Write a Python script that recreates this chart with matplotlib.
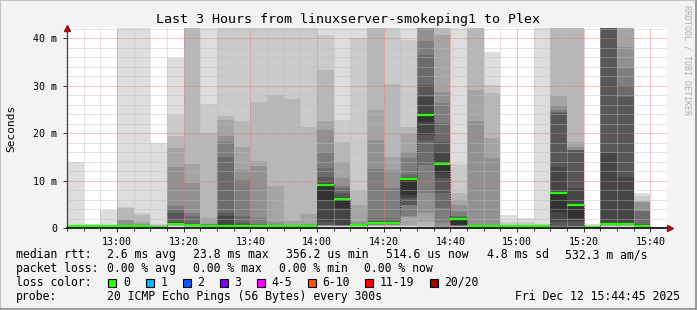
import numpy as np
import matplotlib
matplotlib.use("Agg")
import matplotlib.pyplot as plt
from matplotlib.patches import Rectangle

# ============================================================
# DATA (values in ms)
# ============================================================
slot_start = ["12:45", "12:50", "12:55", "13:00", "13:05", "13:10", "13:15", "13:20", "13:25",
              "13:30", "13:35", "13:40", "13:45", "13:50", "13:55", "14:00", "14:05", "14:10",
              "14:15", "14:20", "14:25", "14:30", "14:35", "14:40", "14:45", "14:50", "14:55",
              "15:00", "15:05", "15:10", "15:15", "15:20", "15:25", "15:30", "15:35", "15:40"]

# 20 sorted ping times per 5 minute slot (45 = off the top of the graph)
pings_ms = [
    [0.2, 0.3, 0.3, 0.3, 0.4, 0.4, 0.4, 0.4, 0.4, 0.4, 0.4, 0.5, 0.5, 0.5, 0.5, 0.5, 0.6, 0.6, 0.7, 14.0],
    [0.2, 0.3, 0.3, 0.3, 0.3, 0.4, 0.4, 0.4, 0.4, 0.4, 0.4, 0.4, 0.4, 0.5, 0.5, 0.5, 0.5, 0.6, 0.6, 1.0],
    [0.2, 0.3, 0.3, 0.3, 0.4, 0.4, 0.4, 0.4, 0.4, 0.4, 0.4, 0.4, 0.5, 0.5, 0.5, 0.5, 0.6, 0.6, 0.7, 3.9],
    [0.2, 0.3, 0.3, 0.3, 0.4, 0.4, 0.4, 0.4, 0.4, 0.4, 0.4, 0.5, 0.5, 0.6, 0.8, 1.7, 1.8, 4.3, 4.4, 45],
    [0.2, 0.3, 0.3, 0.3, 0.4, 0.4, 0.4, 0.4, 0.4, 0.4, 0.4, 0.5, 0.5, 0.6, 0.8, 1.0, 1.4, 2.8, 3.3, 45],
    [0.1, 0.2, 0.2, 0.2, 0.3, 0.3, 0.3, 0.3, 0.3, 0.3, 0.3, 0.3, 0.4, 0.4, 0.4, 0.4, 0.5, 0.6, 1.0, 17.9],
    [0.3, 0.4, 0.5, 0.6, 0.6, 0.7, 0.7, 0.8, 0.8, 0.9, 0.9, 1.4, 3.2, 3.9, 4.6, 13.0, 17.0, 19.4, 23.9, 35.8],
    [0.2, 0.3, 0.3, 0.4, 0.4, 0.5, 0.5, 0.5, 0.6, 0.6, 0.7, 0.9, 1.2, 2.5, 3.2, 9.6, 13.5, 45, 45, 45],
    [0.2, 0.3, 0.3, 0.3, 0.4, 0.4, 0.4, 0.5, 0.5, 0.5, 0.5, 0.6, 0.7, 0.8, 1.0, 1.0, 2.1, 20.0, 26.2, 45],
    [0.2, 0.3, 0.3, 0.3, 0.4, 0.4, 0.4, 0.5, 0.5, 0.5, 0.6, 2.5, 3.2, 15.1, 18.2, 19.4, 22.8, 23.7, 45, 45],
    [0.2, 0.3, 0.3, 0.3, 0.4, 0.4, 0.4, 0.5, 0.5, 0.5, 0.6, 0.8, 1.2, 2.5, 10.2, 12.3, 17.2, 22.5, 45, 45],
    [0.2, 0.3, 0.3, 0.3, 0.4, 0.4, 0.4, 0.5, 0.5, 0.5, 0.6, 0.7, 0.8, 1.0, 2.1, 13.2, 14.2, 26.5, 45, 45],
    [0.2, 0.3, 0.3, 0.3, 0.4, 0.4, 0.4, 0.5, 0.5, 0.5, 0.5, 0.6, 0.7, 0.8, 0.8, 1.4, 8.9, 28.1, 45, 45],
    [0.2, 0.3, 0.3, 0.3, 0.3, 0.4, 0.4, 0.4, 0.4, 0.4, 0.5, 0.5, 0.6, 0.7, 0.8, 0.8, 1.5, 27.2, 45, 45],
    [0.2, 0.3, 0.3, 0.3, 0.4, 0.4, 0.4, 0.5, 0.5, 0.5, 0.5, 0.6, 0.7, 0.8, 0.8, 0.9, 3.0, 21.4, 45, 45],
    [0.3, 0.4, 0.4, 0.5, 0.5, 0.6, 0.6, 0.7, 1.4, 6.0, 9.3, 9.6, 10.9, 12.6, 16.1, 20.7, 22.5, 33.3, 40.7, 45],
    [0.3, 0.4, 0.4, 0.5, 0.5, 0.5, 0.6, 0.6, 0.7, 4.2, 6.1, 6.5, 7.4, 8.4, 9.0, 10.5, 14.0, 18.2, 22.8, 45],
    [0.2, 0.3, 0.4, 0.4, 0.5, 0.5, 0.6, 0.6, 0.7, 0.7, 0.8, 0.8, 0.8, 0.9, 1.0, 1.4, 4.9, 8.1, 40.0, 45],
    [0.3, 0.4, 0.5, 0.6, 0.7, 0.8, 0.9, 0.9, 1.0, 1.0, 1.1, 1.3, 1.6, 2.2, 12.5, 18.6, 24.9, 45, 45, 45],
    [0.3, 0.4, 0.5, 0.6, 0.7, 0.8, 0.9, 0.9, 1.0, 1.0, 1.1, 1.2, 1.5, 2.1, 8.4, 12.3, 15.1, 30.3, 45, 45],
    [0.3, 0.4, 0.5, 0.7, 2.4, 2.5, 4.9, 4.9, 6.3, 7.0, 10.3, 10.5, 10.8, 11.4, 14.7, 16.1, 19.8, 21.4, 39.6, 45],
    [0.3, 0.3, 0.4, 1.4, 3.2, 7.4, 13.3, 18.4, 19.6, 22.3, 23.9, 27.7, 30.2, 36.4, 39.5, 45, 45, 45, 45, 45],
    [0.2, 0.3, 0.3, 0.3, 0.4, 1.1, 4.2, 7.4, 10.5, 11.6, 13.7, 16.1, 18.2, 22.1, 26.3, 28.8, 40.7, 45, 45, 45],
    [0.2, 0.3, 0.3, 0.4, 0.4, 0.5, 0.5, 0.6, 0.7, 0.8, 2.0, 2.1, 2.3, 2.6, 3.5, 4.9, 6.0, 7.4, 13.5, 45],
    [0.2, 0.3, 0.3, 0.3, 0.3, 0.4, 0.4, 0.4, 0.4, 0.4, 0.4, 0.5, 0.5, 0.5, 0.6, 22.6, 29.1, 45, 45, 45],
    [0.2, 0.3, 0.3, 0.3, 0.3, 0.4, 0.4, 0.4, 0.4, 0.4, 0.4, 0.5, 0.5, 0.5, 0.6, 14.7, 19.1, 28.4, 30.2, 37.2],
    [0.2, 0.3, 0.3, 0.3, 0.3, 0.4, 0.4, 0.4, 0.4, 0.4, 0.4, 0.4, 0.5, 0.5, 0.5, 0.5, 0.5, 0.6, 1.4, 2.8],
    [0.2, 0.3, 0.3, 0.3, 0.3, 0.4, 0.4, 0.4, 0.4, 0.4, 0.4, 0.4, 0.5, 0.5, 0.5, 0.5, 0.5, 0.6, 1.4, 2.2],
    [0.2, 0.3, 0.3, 0.3, 0.3, 0.4, 0.4, 0.4, 0.4, 0.4, 0.4, 0.4, 0.5, 0.5, 0.5, 0.5, 0.6, 0.7, 1.0, 45],
    [0.2, 0.3, 0.3, 0.3, 0.3, 0.3, 0.4, 0.4, 1.4, 3.5, 7.7, 13.0, 24.2, 24.5, 24.9, 26.0, 27.9, 45, 45, 45],
    [0.2, 0.3, 0.3, 0.3, 0.3, 0.4, 0.4, 0.5, 1.3, 2.1, 4.9, 8.4, 16.4, 16.5, 16.5, 17.2, 18.2, 45, 45, 45],
    [0.1, 0.2, 0.2, 0.2, 0.2, 0.3, 0.3, 0.3, 0.3, 0.3, 0.3, 0.3, 0.3, 0.4, 0.4, 0.4, 0.4, 0.5, 0.5, 1.0],
    [0.3, 0.4, 0.5, 0.5, 0.6, 0.6, 0.7, 0.7, 0.8, 0.9, 1.1, 15.8, 45, 45, 45, 45, 45, 45, 45, 45],
    [0.3, 0.4, 0.5, 0.5, 0.6, 0.6, 0.7, 0.7, 0.8, 0.9, 1.1, 10.7, 27.7, 30.0, 33.7, 38.2, 45, 45, 45, 45],
    [0.2, 0.3, 0.3, 0.3, 0.4, 0.4, 0.4, 0.5, 0.5, 0.5, 0.6, 0.7, 0.9, 3.6, 3.7, 5.6, 5.6, 5.7, 6.7, 7.4],
    None,
]

median_ms = [0.4, 0.4, 0.4, 0.4, 0.4, 0.3, 0.9, 0.6, 0.4, 0.5, 0.5, 0.5, 0.5, 0.4, 0.5, 9.2, 6.1, 0.8,
             1.1, 1.1, 10.3, 23.9, 13.6, 1.9, 0.4, 0.4, 0.4, 0.4, 0.4, 7.5, 4.9, 0.3, 0.9, 0.9, 0.5, np.nan]

tick_labels = ["13:00", "13:20", "13:40", "14:00", "14:20", "14:40", "15:00", "15:20", "15:40"]

loss_labels = ["0", "1", "2", "3", "4-5", "6-10", "11-19", "20/20"]
loss_colors = ["#26ff00", "#00b8ff", "#0059ff", "#7e00ff", "#ff00ff", "#ff5500", "#ff0000", "#a10000"]

# ============================================================
# HELPERS
# ============================================================
W, H = 697, 310
MONO = "DejaVu Sans Mono"


def minutes(hhmm):
    h, m = hhmm.split(":")
    return (int(h) - 12) * 60 + int(m) - 45


def fx(px):
    return px / W


def fy(py):
    return 1 - py / H


starts = np.array([minutes(s) for s in slot_start], dtype=float)
valid = [p is not None for p in pings_ms]
P = np.array([p for p in pings_ms if p is not None])
xs = starts[valid]

# smokeping shades, outer band -> inner band
shades = ["#dddddd", "#cacaca", "#b7b7b7", "#a4a4a4", "#919191",
          "#7e7e7e", "#6b6b6b", "#585858", "#454545", "#323232"]

# ============================================================
# FIGURE
# ============================================================
fig = plt.figure(figsize=(W / 100, H / 100), dpi=100, facecolor="#f3f3f3")
ax = fig.add_axes([fx(67), fy(228.3), 600 / W, 200.3 / H])
ax.set_facecolor("white")
ax.set_xlim(0, 180)
ax.set_ylim(0, 42.17)

for k in range(10):
    lo = P[:, k]
    hi = P[:, 19 - k]
    ax.bar(xs, hi - lo, bottom=lo, width=5, align="edge", color=shades[k],
           linewidth=0, zorder=1)

# median: dotted step line plus green (0 loss) segments
ok = ~np.isnan(median_ms)
edges = np.append(starts[ok], starts[ok][-1] + 5)
ax.stairs(np.array(median_ms)[ok], edges, baseline=None, color="black",
          linestyle=(0, (1, 1.5)), linewidth=0.7, alpha=0.8, zorder=3)
ax.hlines(np.array(median_ms)[ok], starts[ok], starts[ok] + 5, color=loss_colors[0],
          linewidth=1.6, zorder=4)

# grid
ax.set_xticks([minutes(t) for t in tick_labels])
ax.set_xticks(np.arange(0, 181, 5), minor=True)
ax.set_xticklabels(tick_labels)
ax.set_yticks([0, 10, 20, 30, 40])
ax.set_yticklabels(["0", "10 m", "20 m", "30 m", "40 m"])
ax.set_yticks(np.arange(0, 43, 2), minor=True)
ax.set_axisbelow(False)
ax.grid(which="minor", color="#bdbdbd", linestyle=(0, (1, 1)), linewidth=0.72, alpha=0.8)
ax.grid(which="major", color="#f07070", linestyle=(0, (1, 1)), linewidth=0.72, alpha=0.8)

ax.tick_params(axis="both", which="both", labelsize=7.2, colors="#303030",
               labelcolor="black", width=0.7)
ax.tick_params(axis="x", which="major", length=3, pad=3)
ax.tick_params(axis="x", which="minor", length=2)
ax.tick_params(axis="y", which="major", length=3, pad=4)
ax.tick_params(axis="y", which="minor", length=0)
for lab in ax.get_xticklabels() + ax.get_yticklabels():
    lab.set_family(MONO)

for s in ["top", "right"]:
    ax.spines[s].set_visible(False)
ax.spines["left"].set_color("#404040")
ax.spines["left"].set_linewidth(0.9)
ax.spines["bottom"].set_color("black")
ax.spines["bottom"].set_linewidth(1.2)
ax.spines["left"].set_zorder(5)
ax.spines["bottom"].set_zorder(5)

# axis arrows
ax.plot([0], [1.0], marker="^", markersize=5, color="#991111", transform=ax.transAxes,
        clip_on=False, zorder=6)
ax.plot([1.005], [0], marker=">", markersize=5, color="#991111", transform=ax.transAxes,
        clip_on=False, zorder=6)

# ============================================================
# TEXTS
# ============================================================
fig.text(0.5, fy(19), "Last 3 Hours from linuxserver-smokeping1 to Plex", family=MONO,
         fontsize=9.6, ha="center", va="center")
fig.text(fx(11), fy(128), "Seconds", family=MONO, fontsize=8, rotation=90,
         ha="center", va="center")
fig.text(fx(687), fy(5), "RRDTOOL / TOBI OETIKER", family=MONO, fontsize=6, rotation=270,
         ha="center", va="top", color="#b0b0b0")

leg_fs = 8.3
row1 = [(16, "median rtt:"), (107, "2.6 ms avg"), (193, "23.8 ms max"), (286, "356.2 us min"),
        (386, "514.6 us now"), (487, "4.8 ms sd"), (565, "532.3 m am/s")]
row2 = [(16, "packet loss:"), (107, "0.00 % avg"), (193, "0.00 % max"), (279, "0.00 % min"),
        (364, "0.00 % now")]
for x, t in row1:
    fig.text(fx(x), fy(254.5), t, family=MONO, fontsize=leg_fs, va="center")
for x, t in row2:
    fig.text(fx(x), fy(268.2), t, family=MONO, fontsize=leg_fs, va="center")

fig.text(fx(16), fy(282.3), "loss color:", family=MONO, fontsize=leg_fs, va="center")
box_x = [108.4, 145.8, 183, 219.6, 257, 307.6, 365, 430]
for bx, lab, col in zip(box_x, loss_labels, loss_colors):
    fig.patches.append(Rectangle((fx(bx), fy(286.5)), 8 / W, 8 / H, transform=fig.transFigure,
                                 facecolor=col, edgecolor="black", linewidth=0.8))
    fig.text(fx(bx + 14.5), fy(282.3), lab, family=MONO, fontsize=leg_fs, va="center")

fig.text(fx(16), fy(296.2), "probe:", family=MONO, fontsize=leg_fs, va="center")
fig.text(fx(107), fy(296.2), "20 ICMP Echo Pings (56 Bytes) every 300s", family=MONO,
         fontsize=leg_fs, va="center")
fig.text(fx(680), fy(296.2), "Fri Dec 12 15:44:45 2025", family=MONO, fontsize=leg_fs,
         va="center", ha="right")

# image frame
fig.patches.append(Rectangle((0, 0), 1, 1, transform=fig.transFigure, fill=False,
                             edgecolor="#c4c4c4", linewidth=1.5))
fig.lines.append(plt.Line2D([0, 1], [0.003, 0.003], transform=fig.transFigure,
                            color="#9a9a9a", linewidth=1.5))
fig.lines.append(plt.Line2D([0.998, 0.998], [0, 1], transform=fig.transFigure,
                            color="#9a9a9a", linewidth=1.5))

fig.savefig("out.png", dpi=100, facecolor=fig.get_facecolor())
